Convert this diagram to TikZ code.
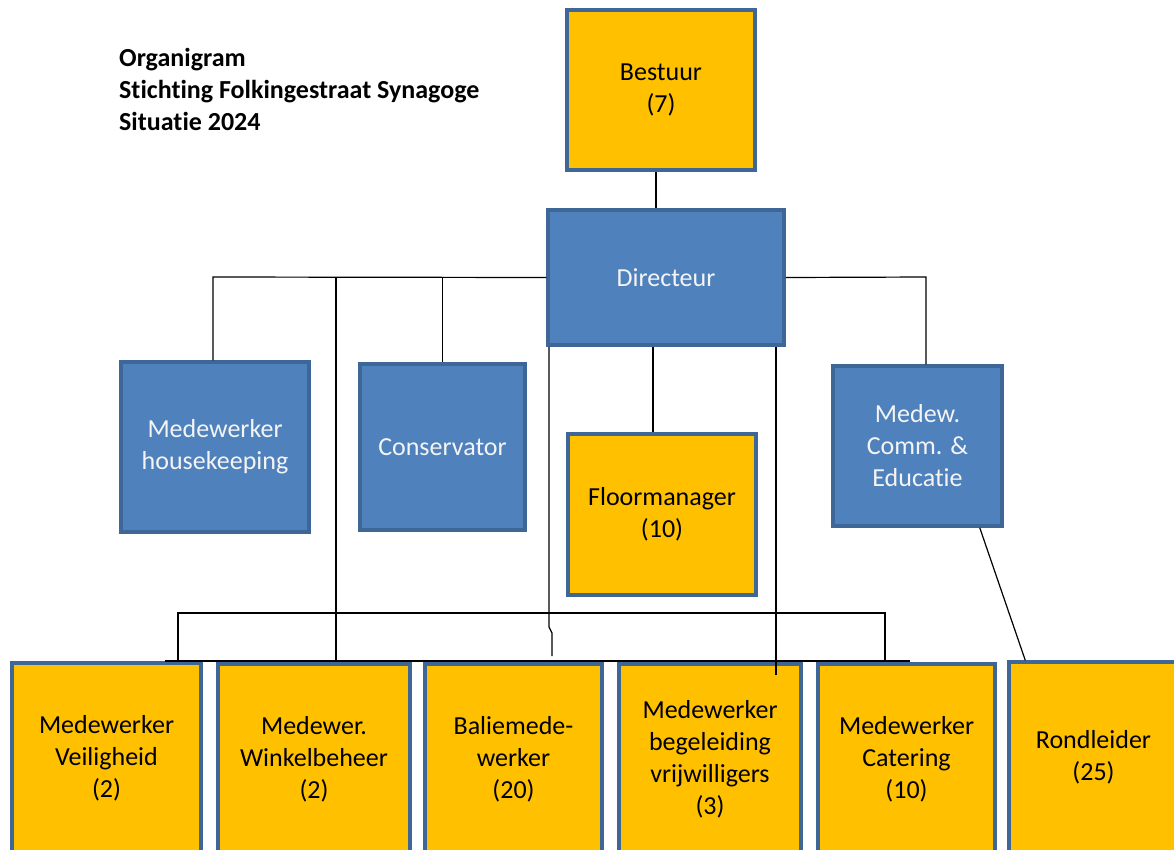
\documentclass[tikz,border=0pt]{standalone}
\usepackage{fontspec}
\setmainfont{Carlito}[Ligatures=NoCommon]
\definecolor{boxyellow}{HTML}{FFC000}
\definecolor{boxblue}{HTML}{4F81BD}
\definecolor{boxborder}{HTML}{3E6696}
\definecolor{txtwhite}{HTML}{F4F4F4}
\begin{document}
\begin{tikzpicture}[x=1pt,y=-1pt,
  base/.style={draw=boxborder, line width=3.5pt, inner sep=0pt, align=center,
    font=\fontsize{26}{32}\selectfont},
  ybox/.style={base, fill=boxyellow, text=black},
  bbox/.style={base, fill=boxblue, text=txtwhite},
  conn/.style={draw=black, line width=1.2pt}]
\useasboundingbox (0,0) rectangle (1174,849);
\clip (0,0) rectangle (1174,849);
\fill[white] (0,0) rectangle (1174,849);

% title
\node[anchor=west, align=left, inner sep=0pt, font=\fontsize{26}{32}\selectfont\bfseries] (title) at (119,89)
  {Organigram\\Stichting Folkingestraat Synagoge\\Situatie 2024};

\coordinate (busL) at (213,277);
\coordinate (busR) at (926,277);
\coordinate (bJog1) at (549,627);
\coordinate (bJog2) at (552,633);
\coordinate (bEnd) at (552,656);
\coordinate (vEnd) at (776,675);
\coordinate (lowL) at (178,613);
\coordinate (lowR) at (885,613);

% boxes
\node[ybox, minimum width=188, minimum height=160] (bestuur) at (661,90) {Bestuur\\(7)};
\node[bbox, minimum width=236, minimum height=135] (directeur) at (666,277.5) {\raisebox{-3pt}{Directeur}};
\node[bbox, minimum width=188, minimum height=170] (housekeeping) at (215,447) {Medewerker\\housekeeping};
\node[bbox, minimum width=165, minimum height=166] (conservator) at (442.5,447) {Conservator};
\node[ybox, minimum width=188, minimum height=161] (floor) at (662,514.5) {Floormanager\\(10)};
\node[bbox, minimum width=169, minimum height=160] (comm) at (917.5,446) {Medew.\\Comm. \&\\Educatie};

\node[ybox, minimum width=189, minimum height=190] (veilig) at (106.5,758) {Medewerker\\Veiligheid\\(2)};
\node[ybox, minimum width=192, minimum height=190] (winkel) at (314,759) {Medewer.\\Winkelbeheer\\(2)};
\node[ybox, minimum width=177, minimum height=190] (balie) at (513.5,759) {Baliemede-\\werker\\(20)};
\node[ybox, minimum width=182, minimum height=190] (begel) at (710,759) {Medewerker\\begeleiding\\vrijwilligers\\(3)};
\node[ybox, minimum width=177, minimum height=190] (catering) at (906.5,759) {Medewerker\\Catering\\(10)};
\node[ybox, minimum width=169, minimum height=190] (rond) at (1093.5,757) {Rondleider\\(25)};

% connectors
\draw[conn] ([xshift=-5pt]bestuur.south) -- ([xshift=-5pt]bestuur.south |- directeur.north);
\draw[conn] (directeur.west) -- (busL) -- (busL |- housekeeping.north);
\draw[conn] (conservator.north |- directeur.west) -- (conservator.north);
\draw[conn] ([xshift=22pt]winkel.north |- directeur.west) -- ([xshift=22pt]winkel.north);
\draw[conn] (directeur.east) -- (busR) -- (busR |- comm.north);
\draw[conn] (bJog1 |- directeur.south) -- (bJog1) -- (bJog2) -- (bEnd);
\draw[conn] ([xshift=-9pt]floor.north |- directeur.south) -- ([xshift=-9pt]floor.north);
\draw[conn] (vEnd |- directeur.south) -- (vEnd);
\draw[conn] (lowL |- veilig.north) -- (lowL) -- (lowR) -- (lowR |- catering.north);
\draw[conn] (165,661) -- (910,661);
\draw[conn] ([xshift=-24pt]comm.south east) -- ([xshift=18pt]rond.north west);
\end{tikzpicture}
\end{document}
